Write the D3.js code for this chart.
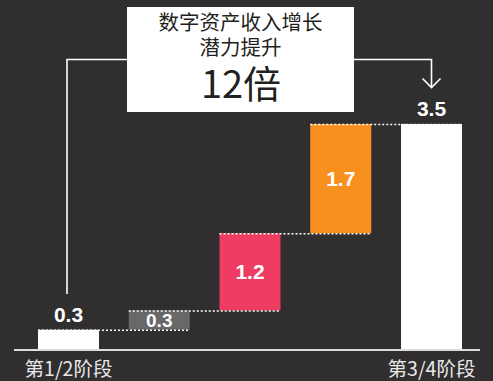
<!DOCTYPE html>
<html>
<head>
<meta charset="utf-8">
<script src="https://cdn.jsdelivr.net/npm/d3@7"></script>
<style>
  html, body { margin: 0; padding: 0; background: #302e2f; }
  svg { display: block; }
</style>
</head>
<body>
<svg id="chart" width="493" height="381"></svg>
<script>
// Waterfall steps: two totals framing three increments
const categories = ["第1/2阶段", "", "", "", "第3/4阶段"];
const values = [0.3, 0.3, 1.2, 1.7, 3.5];
const kinds = ["total", "delta", "delta", "delta", "total"];
const valueLabels = ["0.3", "0.3", "1.2", "1.7", "3.5"];
const titleLines = ["数字资产收入增长", "潜力提升"];
const titleBig = "12倍";

const colors = { total: "#ffffff", delta: ["#68686a", "#ee3c63", "#f7901f"] };
const numFont = "'Liberation Sans', Arial, Helvetica, sans-serif";
const cjkFont = "'Noto Sans CJK SC', 'Liberation Sans', sans-serif";

const svg = d3.select("#chart");
const W = 493, H = 381;
svg.append("rect").attr("width", W).attr("height", H).attr("fill", "#302e2f");

// Build start/end for each step
let running = 0, di = 0;
const steps = values.map((v, i) => {
  let start, end, color;
  if (kinds[i] === "total") { start = 0; end = v; running = v; color = colors.total; }
  else { start = running; end = running + v; running = end; color = colors.delta[di++]; }
  return { i, cat: categories[i], value: v, label: valueLabels[i], kind: kinds[i], start, end, color };
});

const x = d3.scaleBand()
  .domain(d3.range(steps.length))
  .range([38, 462])
  .paddingInner(0.328)
  .paddingOuter(0);

const y = d3.scaleLinear().domain([0, 3.5]).range([349, 124]);

// Bars
svg.append("g").selectAll("rect")
  .data(steps)
  .join("rect")
  .attr("x", d => x(d.i))
  .attr("width", x.bandwidth())
  .attr("y", d => y(d.end))
  .attr("height", d => y(d.start) - y(d.end))
  .attr("fill", d => d.color);

// Dotted connectors from each bar's top across the next bar
svg.append("g").selectAll("line")
  .data(steps.slice(0, -1))
  .join("line")
  .attr("x1", d => x(d.i))
  .attr("x2", d => x(d.i + 1) + x.bandwidth())
  .attr("y1", d => y(d.end) + 0.5)
  .attr("y2", d => y(d.end) + 0.5)
  .attr("stroke", "#ffffff")
  .attr("stroke-width", 1.5)
  .attr("stroke-dasharray", "2,2");

// Value labels: totals above, increments inside
svg.append("g").selectAll("text")
  .data(steps)
  .join("text")
  .attr("x", d => x(d.i) + x.bandwidth() / 2)
  .attr("y", d => d.kind === "total" ? y(d.end) - 8 : (y(d.start) + y(d.end)) / 2 + 7)
  .attr("text-anchor", "middle")
  .attr("font-family", numFont)
  .attr("font-weight", "bold")
  .attr("font-size", d => d.kind === "delta" && (y(d.start) - y(d.end)) < 22 ? 19 : 21)
  .attr("fill", "#ffffff")
  .text(d => d.label);

// Baseline
svg.append("line")
  .attr("x1", 14).attr("x2", 480)
  .attr("y1", y(0) + 1).attr("y2", y(0) + 1)
  .attr("stroke", "#dcdcdc").attr("stroke-width", 1.8);

// Category labels
svg.append("g").selectAll("text")
  .data(steps.filter(d => d.cat))
  .join("text")
  .attr("x", d => x(d.i) + x.bandwidth() / 2)
  .attr("y", 376)
  .attr("text-anchor", "middle")
  .attr("font-family", cjkFont)
  .attr("font-size", 19.5)
  .attr("fill", "#e8e8e8")
  .text(d => d.cat);

// Bracket from first total to last total, passing behind the callout box
const cx0 = x(0) + x.bandwidth() / 2 - 1.5;
const cx1 = x(steps.length - 1) + x.bandwidth() / 2;
const bracketY = 59.5;
svg.append("path")
  .attr("d", `M${cx0},294 V${bracketY} H${cx1} V87`)
  .attr("fill", "none")
  .attr("stroke", "#ffffff")
  .attr("stroke-width", 1.6);
svg.append("path")
  .attr("d", `M${cx1 - 9},78.5 L${cx1},87.5 L${cx1 + 9},78.5`)
  .attr("fill", "none")
  .attr("stroke", "#ffffff")
  .attr("stroke-width", 1.6);

// Callout box with a three-line caption set as one text block
const box = svg.append("g");
box.append("rect")
  .attr("x", 127).attr("y", 7)
  .attr("width", 227).attr("height", 105)
  .attr("fill", "#ffffff");
const caption = box.append("text")
  .attr("text-anchor", "middle")
  .attr("font-family", cjkFont)
  .attr("fill", "#231f20");
titleLines.forEach((line, i) => {
  caption.append("tspan")
    .attr("x", 240.5)
    .attr("y", 30 + i * 25)
    .attr("font-size", 20.5)
    .text(line);
});
caption.append("tspan")
  .attr("x", 241)
  .attr("y", 98)
  .attr("font-size", 38)
  .text(titleBig);
</script>
</body>
</html>
